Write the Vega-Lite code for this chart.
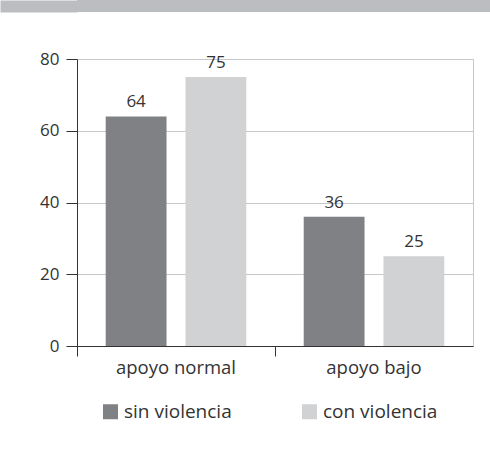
{
  "$schema": "https://vega.github.io/schema/vega-lite/v6.json",
  "padding": {"left": -6, "top": 0, "right": 0, "bottom": 0},
  "background": "white",
  "spacing": 37,
  "config": {
    "font": "Open Sans",
    "view": {"stroke": "#c8c8c8"}
  },
  "datasets": {
    "band": [{"k": 1}],
    "main": [
      {"grupo": "apoyo normal", "tipo": "sin violencia", "valor": 64},
      {"grupo": "apoyo normal", "tipo": "con violencia", "valor": 75},
      {"grupo": "apoyo bajo", "tipo": "sin violencia", "valor": 36},
      {"grupo": "apoyo bajo", "tipo": "con violencia", "valor": 25}
    ]
  },
  "vconcat": [
    {
      "width": 414,
      "height": 12,
      "view": {"fill": "#bcbdc0", "stroke": null},
      "data": {"name": "band"},
      "mark": {"type": "rect", "color": "#bcbdc0", "opacity": 1},
      "encoding": {
        "y": {
          "field": "k",
          "type": "quantitative",
          "scale": {"domain": [0, 2]},
          "axis": {
            "title": null,
            "values": [1],
            "labels": false,
            "domain": false,
            "grid": false,
            "tickSize": 77,
            "tickWidth": 12,
            "tickColor": "#bcbdc0",
            "tickOpacity": 1,
            "tickCap": "butt"
          }
        }
      }
    },
    {
      "width": 396,
      "height": 287,
      "data": {"name": "main"},
      "encoding": {
        "x": {
          "field": "grupo",
          "type": "nominal",
          "sort": ["apoyo normal", "apoyo bajo"],
          "scale": {"paddingInner": 0, "paddingOuter": 0},
          "axis": {
            "title": null,
            "labelAngle": 0,
            "labelFontSize": 18.5,
            "labelColor": "#333333",
            "labelPadding": 2,
            "tickSize": 10,
            "tickColor": "#333333",
            "domainColor": "#333333",
            "bandPosition": 0,
            "grid": false
          }
        },
        "xOffset": {
          "field": "tipo",
          "type": "nominal",
          "sort": ["sin violencia", "con violencia"],
          "scale": {"paddingInner": 0.2375, "paddingOuter": 0.36}
        },
        "y": {
          "field": "valor",
          "type": "quantitative",
          "scale": {"domain": [0, 80]},
          "axis": {
            "title": null,
            "values": [0, 20, 40, 60, 80],
            "labelFontSize": 17,
            "labelColor": "#333333",
            "labelPadding": 7,
            "tickSize": 11,
            "tickColor": "#333333",
            "domainColor": "#333333",
            "gridColor": "#c8c8c8"
          }
        }
      },
      "layer": [
        {
          "mark": {"type": "bar"},
          "encoding": {
            "color": {
              "field": "tipo",
              "type": "nominal",
              "sort": ["sin violencia", "con violencia"],
              "scale": {"domain": ["sin violencia", "con violencia"], "range": ["#808184", "#d1d2d4"]},
              "legend": {
                "title": null,
                "orient": "none",
                "direction": "horizontal",
                "legendX": 24,
                "legendY": 402,
                "symbolType": "square",
                "symbolSize": 225,
                "symbolStrokeWidth": 0,
                "symbolOpacity": 1,
                "labelFontSize": 19,
                "labelColor": "#333333",
                "labelOffset": 4,
                "columnPadding": 68
              }
            }
          }
        },
        {
          "mark": {"type": "text", "baseline": "bottom", "dy": -5, "fontSize": 17, "color": "#333333"},
          "encoding": {"text": {"field": "valor", "type": "quantitative"}}
        }
      ]
    }
  ]
}
